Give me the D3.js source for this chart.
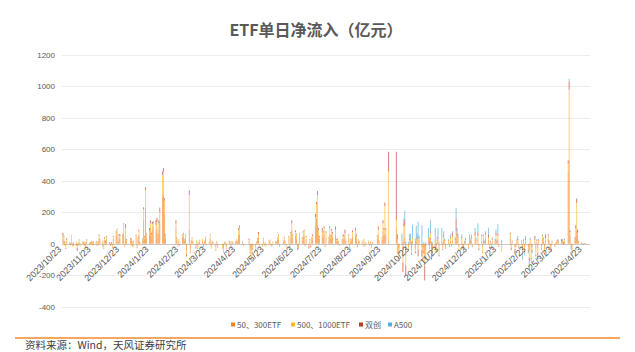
<!DOCTYPE html>
<html>
<head>
<meta charset="utf-8">
<script src="https://cdn.jsdelivr.net/npm/d3@7"></script>
<style>
  body { margin: 0; background: #fff; }
  #chart { width: 635px; height: 352px; }
</style>
</head>
<body>
<div id="chart"></div>
<script>
/* Data */
const seriesNames = ["50、300ETF", "500、1000ETF", "双创", "A500"];
const seriesColors = ["#f3831f", "#fcb82b", "#be3a2b", "#4fafdd"];
const months = ["2023-10", "2023-11", "2023-12", "2024-01", "2024-02", "2024-03", "2024-04",
  "2024-05", "2024-06", "2024-07", "2024-08", "2024-09", "2024-10", "2024-11", "2024-12",
  "2025-01", "2025-02", "2025-03", "2025-04"];
// market closed on these weekdays
const holidays = ["2024-01-01", "2024-02-09", "2024-02-12", "2024-02-13", "2024-02-14",
  "2024-02-15", "2024-02-16", "2024-04-04", "2024-04-05", "2024-05-01", "2024-05-02",
  "2024-05-03", "2024-06-10", "2024-09-16", "2024-09-17", "2024-10-01", "2024-10-02",
  "2024-10-03", "2024-10-04", "2024-10-07", "2025-01-01", "2025-01-28", "2025-01-29",
  "2025-01-30", "2025-01-31", "2025-02-03", "2025-02-04", "2025-04-04"];
const yTicks = [-400, -200, 0, 200, 400, 600, 800, 1000, 1200];
const xTickLabels = ["2023/10/23", "2023/11/23", "2023/12/23", "2024/1/23", "2024/2/23",
  "2024/3/23", "2024/4/23", "2024/5/23", "2024/6/23", "2024/7/23", "2024/8/23", "2024/9/23",
  "2024/10/23", "2024/11/23", "2024/12/23", "2025/1/23", "2025/2/23", "2025/3/23", "2025/4/23"];

// daily net inflow (亿元), one inner array per month, one value per trading day
const s50 = [
  [35, 20, 10, -8, 15, 5, -5],
  [5, -5, 10, -8, -15, 8, 5, -5, 12, 10, -10, 5, 15, -6, 8, 10, -5, 12, 6, -8, 10, 40],
  [15, 20, -10, 25, 10, 30, 8, -5, 5, -10, 35, 50, 65, 10, 40, 30, 45, 70, -10, 40, 15],
  [20, 30, -10, 15, 40, -15, 25, 60, 10, 20, 150, 30, 230, 40, 60, 100, 45, 90, 110, 80, 95, 40],
  [90, 140, 300, 310, 190, 35, 110, 25, -10, 20, -10, 40, 45, 20, 40],
  [-45, 90, -35, 10, 25, 8, -15, 15, -20, 5, 15, 18, -10, 12, 30, -5, 10, 35, -18, 12, 6],
  [-20, 10, -15, -10, -25, 8, 5, -20, 12, 8, -8, 10, 5, 12, 18, 10, 55, 60, 10, -5],
  [15, -30, -35, -40, -15, -20, 10, 20, 40, -5, -10, 20, -8, 5, -10, 12, 15, -5, -10, 8],
  [10, 8, 25, 30, -10, 12, 25, 8, -10, 35, -12, 45, 90, 35, 50, 30, -20, -15, 40],
  [20, 45, 50, -8, 30, -10, 15, -5, 25, 30, 110, 160, 120, 55, 30, 50, 40, 60, -10, 45, 20, 60, 30],
  [55, 40, 60, 15, 20, 10, -5, 15, 30, 25, 40, 10, 35, -15, 20, 15, 45, 50, 30, -10, 15, 10],
  [12, -10, 18, -12, 6, 12, -6, 10, -15, 6, 30, 50, 12, 25, 80, 55, 60, 55, 20],
  [100, 30, -60, -30, 10, -60, 20, 40, -80, -20, 15, 10, -40, 20, -30, 15, 10, -40],
  [20, -20, -50, -30, -80, -40, 20, -15, 40, -50, -30, 15, -25, 10, 20, -40, 20, -20, 25, 10, -15],
  [10, -10, 20, -5, 25, 15, 50, 30, 20, -20, 20, -10, -20, 5, 15, -10, 20, 10, 20, -10, 30, 10],
  [30, -15, 20, -20, 30, 5, 35, 25, -10, 5, -10, 15, 10, 30, 5, 30, -5, 10],
  [40, -15, 10, -20, -10, 10, 15, -10, 10, -25, 10, -20, 15, -20, -40, 15, -30, -20],
  [15, -30, 10, -30, 10, -15, 30, 15, -35, 20, 30, 10, -10, -20, 10, -10, 5, 10, 10, 10, 10],
  [10, -5, 15, 450, 530, 50, -10, -50, 20, 50, 80, 50, 10, 3, 2, -3, 2, 1]
];
const s500 = [
  [15, 25, -15, -20, 10, -10, 8],
  [45, -12, -8, 15, -10, -5, 20, -15, 5, -10, 12, -20, 8, 10, -5, -8, 15, -10, 5, 8, -12, 10],
  [8, -15, -20, 10, -12, 15, -8, 5, -10, -15, 10, 20, 25, -5, 15, 20, 5, 55, -5, 60, 10],
  [10, -12, 15, -20, 10, -8, 15, 20, -10, 8, 70, 15, 110, 20, 25, 30, 15, 35, 20, 40, 45, 15],
  [40, 60, 140, 150, 85, 20, 20, 10, -10, 8, -5, 15, 20, 8, 15],
  [-25, 220, -20, 5, 10, 5, -5, 8, -10, 3, 8, 10, -5, 6, 12, -5, 5, 20, -10, 6, 3],
  [-20, 5, -8, -15, -20, 4, 3, -10, 6, 5, -5, 5, 3, 5, 8, 5, 35, 45, 5, -3],
  [10, -25, -55, -60, -15, -15, 5, 10, 20, -5, -8, 15, -5, 3, -5, 8, 8, -3, -5, 4],
  [5, 5, 10, 25, -5, 6, 15, 5, -5, 10, -6, 20, 40, 20, 25, 30, -10, -8, 20],
  [15, 30, 35, -5, 15, -5, 10, -8, 10, 20, 60, 90, 190, 35, 15, 30, 30, 40, -5, 25, 15, 40, 20],
  [30, 25, 30, 10, 10, 5, -5, 10, 20, 20, 25, 5, 20, -10, 10, 10, 30, 35, 20, -5, 10, 5],
  [6, -4, 10, -6, 3, 6, -3, 4, -8, 3, 20, 40, 6, 12, 50, 35, 180, 35, 440],
  [50, -60, -30, -20, 10, -60, 90, 80, -60, -15, 10, 10, -20, 15, -20, 15, 10, 30],
  [15, -20, -40, -20, -60, -40, 15, -10, 30, -30, -20, -40, -15, 10, 15, -30, 15, -15, 20, 10, -10],
  [10, -5, 15, -5, 20, 10, 30, 20, 15, -15, 15, -15, -35, 5, 10, -15, 10, 5, 15, -5, 20, 10],
  [20, -15, 30, -35, 20, 5, 25, 15, -10, 5, -15, 10, 10, 25, 5, 20, -10, -50],
  [20, -10, 5, -15, -5, 10, 10, -10, 5, -30, 10, -25, 10, -20, -50, 10, -60, -20],
  [10, -40, 10, -30, 10, -15, 20, 15, -25, 15, 20, 5, -10, -20, 5, -5, 5, 5, 10, 5, 5],
  [5, -3, 10, 60, 450, 25, -5, -20, 10, 50, 180, 20, 5, 2, 1, -2, 1, 1]
];
const sCY = [
  [20, 5, 5, -5, 10, 3, -3],
  [3, 2, -5, -3, -20, -5, 3, 2, -2, 4, -3, 2, 5, -2, 3, 4, -2, 3, 5, -3, 4, 8],
  [5, -5, -3, 8, 10, 5, 3, -5, 5, -3, 5, 10, 5, 3, 6, 10, 8, 5, -3, 25, 5],
  [5, 3, -5, 5, 8, -5, 5, 10, 3, 5, 12, 5, 20, 5, 15, 20, 10, 15, 12, 30, 25, 5],
  [20, 30, 20, 20, 15, 5, 20, 5, 0, 2, 0, 5, 5, 2, 5],
  [-10, 30, -5, 5, 5, 2, -10, 2, -5, 2, 2, 2, -5, 2, 3, 0, 0, 5, -2, 2, 1],
  [-5, 2, -3, -5, -5, 2, 1, -5, 2, 2, -2, 1, 1, 2, 3, 2, 10, 10, 2, -1],
  [8, -5, -5, -5, -5, -5, 2, 5, 15, 0, -2, 3, -2, 1, -2, 2, 3, -2, -2, 2],
  [3, 2, 5, 5, -3, 2, 5, 2, -2, 5, -2, 10, 20, 5, 10, 5, -10, -8, 5],
  [5, 5, 5, -3, 5, -15, 5, -10, 5, 10, 20, 15, 25, 10, 5, 20, 10, 10, -5, 10, 5, 10, 5],
  [10, 10, 20, 5, 5, 3, -2, 3, 10, 10, 25, 3, 5, -5, 3, 3, 10, 15, 10, -5, 3, 2],
  [2, -1, 2, -2, 1, 2, -1, 1, -2, 1, 5, 20, 2, 3, 20, 10, 22, 10, 125],
  [435, 30, -10, -10, 5, -60, 20, 30, -60, -5, 5, 5, -10, 5, -10, 10, 5, -40],
  [5, -40, -20, -10, -90, -20, 5, -5, 10, -20, -10, 5, -10, 5, 5, -10, 5, -5, 10, 5, -5],
  [5, -5, 10, -5, 25, 5, 80, 20, 10, -5, 10, -5, -5, 3, 5, -5, 5, 5, 10, -5, 25, 5],
  [20, -10, 5, -5, 5, 5, 10, 20, -10, 5, -5, 5, 5, 15, 5, 15, -5, 5],
  [10, -15, 5, -25, -5, 5, 5, -5, 5, -10, 5, -10, 5, -10, -20, 5, -10, -10],
  [25, -10, 5, -10, 5, -5, 5, 5, -10, 25, 10, 5, -5, -5, 5, -5, 0, 5, 5, 5, 15],
  [5, 10, 5, 20, 50, 10, 0, -5, 5, 15, 25, 20, 3, 1, 1, -1, 1, 0]
];
const sA500 = [
  [], [], [], [], [], [], [], [], [], [], [], [],
  [0, 0, 0, 0, 40, 10, 30, 60, 15, 10, 30, 40, 15, 80, 30, 75, 40, 110],
  [10, 120, 0, 10, -5, 10, 60, 40, 70, 15, 10, 80, 5, 20, 60, 10, 60, 5, 25, 10, 0],
  [5, 0, 15, 0, 10, 10, 65, 30, 15, 0, 15, 0, 0, 7, 10, 0, 25, 10, 15, 0, 25, 15],
  [60, 0, 5, 0, 5, 5, 10, 40, 0, 5, 0, 10, 5, 20, 5, 60, 0, 10],
  [0, 0, 0, 0, 0, 5, 20, -5, 0, -35, 5, -15, 20, -10, -60, 10, -20, -10],
  [0, 0, 5, -30, 5, -5, 5, 5, 0, 0, 0, 0, -5, -5, 0, 0, 0, 0, 5, 0, 0],
  [10, 5, 5, 0, 20, 0, -20, 0, 5, 5, 5, 0, 2, 1, 0, 0, 0, 0]
];

/* Layout */
const W = 635, H = 352;
const plot = { left: 62, right: 590, top: 55, bottom: 306.7 };
const fontLatin = "'Liberation Sans', Arial, 'Noto Sans CJK SC', sans-serif";
const fontCJK = "'Noto Sans CJK SC', 'Liberation Sans', sans-serif";

function tradingDays() {
  // trading days grouped by month key
  const fmt = d3.timeFormat("%Y-%m-%d");
  const closed = new Set(holidays);
  const days = d3.timeDay.range(new Date(2023, 9, 23), new Date(2025, 3, 26))
    .filter(d => d.getDay() % 6 !== 0 && !closed.has(fmt(d)));
  return d3.group(days, d3.timeFormat("%Y-%m"));
}

function buildRows() {
  const byMonth = tradingDays();
  const all = [s50, s500, sCY, sA500];
  let rows = [];
  months.forEach(function(m, i) {
    (byMonth.get(m) || []).forEach(function(day, j) {
      rows.push({ date: day, values: all.map(s => (s[i] && s[i][j]) || 0) });
    });
  });
  return rows;
}

function makeGraph() {
  const svg = d3.select("#chart").append("svg")
    .attr("width", W).attr("height", H);

  const x = d3.scaleTime()
    .domain([new Date(2023, 9, 22), new Date(2025, 3, 30)])
    .range([plot.left, plot.right]);
  const y = d3.scaleLinear().domain([-400, 1200]).range([plot.bottom, plot.top]);

  // title
  svg.append("text")
    .attr("x", 316).attr("y", 36)
    .attr("text-anchor", "middle")
    .style("font-family", fontCJK).style("font-weight", "bold")
    .style("font-size", "16px").style("fill", "#595959")
    .text("ETF单日净流入（亿元）");

  // grid
  svg.append("g").selectAll("line").data(yTicks).join("line")
    .attr("x1", plot.left).attr("x2", plot.right)
    .attr("y1", d => Math.round(y(d)) + 0.5).attr("y2", d => Math.round(y(d)) + 0.5)
    .attr("stroke", d => d === 0 ? "#c8c8c8" : "#ececec").attr("stroke-width", 1);

  svg.append("g").selectAll("text").data(yTicks).join("text")
    .attr("x", 55).attr("y", d => y(d) + 3)
    .attr("text-anchor", "end")
    .style("font-family", fontLatin).style("font-size", "8px").style("fill", "#595959")
    .text(d => d);

  // bars, stacked positive up and negative down
  const rows = buildRows();
  const bw = 0.8;
  let segs = [];
  rows.forEach(function(r) {
    let pos = 0, neg = 0;
    r.values.forEach(function(v, k) {
      if (v > 0) { segs.push({ date: r.date, y0: pos, y1: pos + v, k: k }); pos += v; }
      else if (v < 0) { segs.push({ date: r.date, y0: neg + v, y1: neg, k: k }); neg += v; }
    });
  });
  svg.append("g").attr("fill-opacity", 0.8).selectAll("rect").data(segs).join("rect")
    .attr("x", d => x(d.date) - bw / 2)
    .attr("width", bw)
    .attr("y", d => y(d.y1))
    .attr("height", d => Math.max(0.3, y(d.y0) - y(d.y1)))
    .attr("fill", d => seriesColors[d.k]);

  // x tick labels, rotated
  const parse = d3.timeParse("%Y/%m/%d");
  svg.append("g").selectAll("text").data(xTickLabels).join("text")
    .attr("transform", d => "translate(" + (x(parse(d)) - 1) + ",250) rotate(-45)")
    .attr("text-anchor", "end")
    .style("font-family", fontLatin).style("font-size", "9px").style("fill", "#595959")
    .text(d => d);

  // legend
  const legendX = [231, 291, 359, 388];
  const lg = svg.append("g").selectAll("g").data(seriesNames).join("g")
    .attr("transform", (d, i) => "translate(" + legendX[i] + ",325)");
  lg.append("rect").attr("x", 0).attr("y", -2.5).attr("width", 4).attr("height", 4)
    .attr("fill", (d, i) => seriesColors[i]);
  lg.append("text").attr("x", 6).attr("y", 3)
    .style("font-family", fontCJK).style("font-size", "8px").style("fill", "#595959")
    .text(d => d);

  // source line
  svg.append("line")
    .attr("x1", 15).attr("x2", 620).attr("y1", 338).attr("y2", 338)
    .attr("stroke", "#f08a2b").attr("stroke-width", 1.5);
  svg.append("text")
    .attr("x", 25).attr("y", 348.5)
    .style("font-family", fontCJK).style("font-size", "10.5px").style("fill", "#404040")
    .text("资料来源：Wind，天风证券研究所");
}

makeGraph();
</script>
</body>
</html>
